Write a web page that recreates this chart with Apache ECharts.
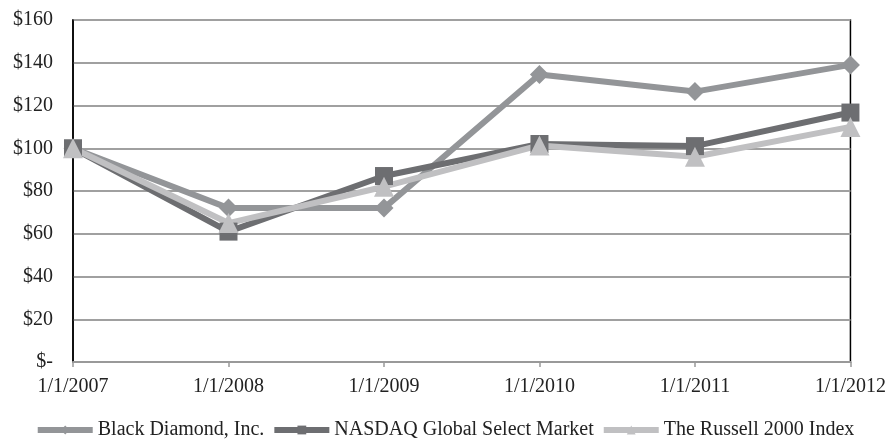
<!DOCTYPE html>
<html><head><meta charset="utf-8">
<script src="https://cdn.jsdelivr.net/npm/echarts@6/dist/echarts.min.js"></script>
<style>html,body{margin:0;padding:0;background:#fff}#c{width:889px;height:443px}</style>
</head><body><div id="c"></div>
<script>
const categories = ['1/1/2007','1/1/2008','1/1/2009','1/1/2010','1/1/2011','1/1/2012'];
const blackDiamond = [100, 72, 72, 134.5, 126.5, 139];
const nasdaq = [100, 61, 87, 102, 101, 116.7];
const russell = [100, 65, 82, 101.3, 96, 110];
const seriesNames = ['Black Diamond, Inc.', 'NASDAQ Global Select Market', 'The Russell 2000 Index'];

const font = 'Liberation Serif, Times New Roman, serif';
const chart = echarts.init(document.getElementById('c'), null, {renderer:'canvas'});
function mk(name, data, color, symbol, size) {
  return {
    name, type:'line', data, symbol, symbolSize:size, showSymbol:true,
    lineStyle:{color, width:6}, itemStyle:{color}, animation:false
  };
}
chart.setOption({
  animation:false,
  grid:{left:73, right:38, top:20, bottom:81, show:true, borderColor:'#000', borderWidth:1.5},
  legend:{
    top:420, left:'center', itemWidth:55, itemHeight:11, itemGap:7, padding:0,
    lineStyle:{width:6},
    textStyle:{fontFamily:font, fontSize:20, color:'#222'},
    data:seriesNames
  },
  xAxis:{
    type:'category', data:categories, boundaryGap:false,
    axisLine:{lineStyle:{color:'#999', width:2}},
    axisTick:{show:true, length:5, lineStyle:{color:'#999', width:1.5}},
    axisLabel:{fontFamily:font, fontSize:20, color:'#222', margin:15},
    splitLine:{show:false}
  },
  yAxis:{
    type:'value', min:0, max:160, interval:20,
    axisLine:{show:true, lineStyle:{color:'#000', width:1.5}},
    axisTick:{show:false},
    axisLabel:{fontFamily:font, fontSize:20, color:'#222', margin:20,
      formatter:v => v===0 ? '$-' : '$'+v},
    splitLine:{lineStyle:{color:'#a0a0a0', width:2}}
  },
  series:[
    mk(seriesNames[0], blackDiamond, '#939598', 'diamond', 19),
    mk(seriesNames[1], nasdaq, '#6d6e71', 'rect', 18),
    mk(seriesNames[2], russell, '#c0c0c2', 'triangle', 20)
  ]
});
</script></body></html>
